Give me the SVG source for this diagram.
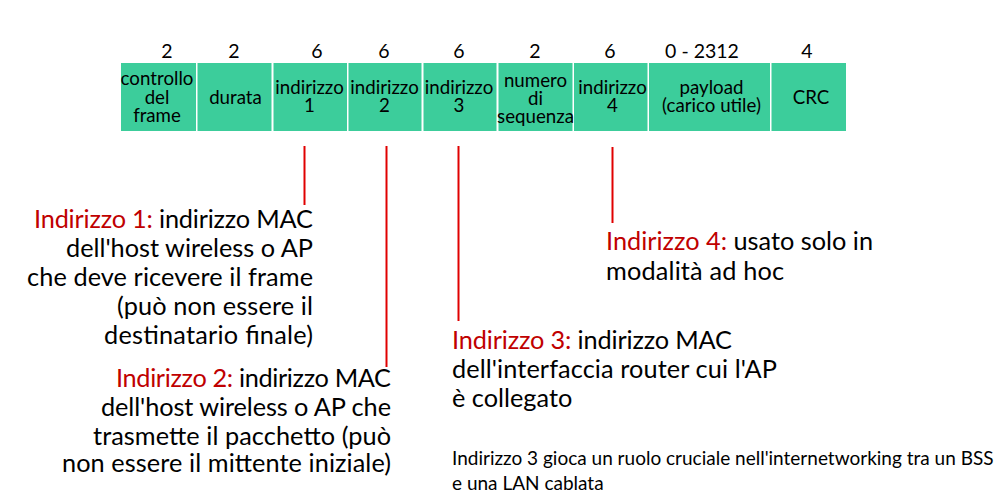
<svg xmlns="http://www.w3.org/2000/svg" width="1002" height="503" viewBox="0 0 1002 503">
<style>
.cell{fill:#3CCD9B}
.ct{font-family:Lato,"Open Sans",sans-serif;font-size:18.7px;fill:#000;text-anchor:middle}
.num{font-family:Lato,"Open Sans",sans-serif;font-size:19.5px;fill:#000;text-anchor:middle}
.body{font-family:Lato,"Open Sans",sans-serif;font-size:25.3px;fill:#000}
.red{fill:#C00000}
.note{font-family:Lato,"Open Sans",sans-serif;font-size:19px;fill:#000}
.ln{stroke:#E00000;stroke-width:2;fill:none}
</style>
<rect width="1002" height="503" fill="#fff"/>
<g id="sizes" class="num">
<text x="167" y="58">2</text>
<text x="234" y="58">2</text>
<text x="317" y="58">6</text>
<text x="384" y="58">6</text>
<text x="459" y="58">6</text>
<text x="535" y="58">2</text>
<text x="610" y="58">6</text>
<text x="702" y="58">0 - 2312</text>
<text x="807" y="58">4</text>
</g>
<g id="cell-controllo"><rect class="cell" x="121" y="63" width="75" height="68"/><text class="ct" x="157" y="85">controllo</text><text class="ct" x="157" y="103.5">del</text><text class="ct" x="157" y="122">frame</text></g>
<g id="cell-durata"><rect class="cell" x="197.5" y="63" width="74" height="68"/><text class="ct" x="235.5" y="103.5">durata</text></g>
<g id="cell-ind1"><rect class="cell" x="273.5" y="63" width="73.5" height="68"/><text class="ct" x="309.5" y="94">indirizzo</text><text class="ct" x="309.5" y="112">1</text></g>
<g id="cell-ind2"><rect class="cell" x="348.5" y="63" width="73" height="68"/><text class="ct" x="384.5" y="94">indirizzo</text><text class="ct" x="384.5" y="112">2</text></g>
<g id="cell-ind3"><rect class="cell" x="423.5" y="63" width="73" height="68"/><text class="ct" x="459" y="94">indirizzo</text><text class="ct" x="459" y="112">3</text></g>
<g id="cell-seq"><rect class="cell" x="498.5" y="63" width="74" height="68"/><text class="ct" x="535.5" y="86.5">numero</text><text class="ct" x="535.5" y="105">di</text><text class="ct" x="535.5" y="123">sequenza</text></g>
<g id="cell-ind4"><rect class="cell" x="574" y="63" width="73.5" height="68"/><text class="ct" x="612.5" y="94">indirizzo</text><text class="ct" x="612.5" y="112">4</text></g>
<g id="cell-payload"><rect class="cell" x="649" y="63" width="121" height="68"/><text class="ct" x="711.5" y="93.5">payload</text><text class="ct" x="711.5" y="112">(carico utile)</text></g>
<g id="cell-crc"><rect class="cell" x="771.5" y="63" width="74.5" height="68"/><text class="ct" x="811" y="103.5">CRC</text></g>
<g id="connectors">
<line class="ln" x1="304.5" y1="146" x2="304.5" y2="205"/>
<line class="ln" x1="386.5" y1="146" x2="386.5" y2="367"/>
<line class="ln" x1="458.5" y1="146" x2="458.5" y2="321"/>
<line class="ln" x1="612.5" y1="147" x2="612.5" y2="223"/>
</g>
<g id="note-ind1" class="body" text-anchor="end">
<text x="313" y="228" textLength="279"><tspan class="red">Indirizzo 1:</tspan> indirizzo MAC</text>
<text x="313" y="257" textLength="247">dell'host wireless o AP</text>
<text x="313" y="286" textLength="286">che deve ricevere il frame</text>
<text x="313" y="315" textLength="196">(può non essere il</text>
<text x="313" y="343.5" textLength="209">destinatario finale)</text>
</g>
<g id="note-ind2" class="body" text-anchor="end">
<text x="391" y="387" textLength="275"><tspan class="red">Indirizzo 2:</tspan> indirizzo MAC</text>
<text x="391" y="416" textLength="290">dell'host wireless o AP che</text>
<text x="391" y="444.5" textLength="298">trasmette il pacchetto (può</text>
<text x="391" y="472" textLength="329">non essere il mittente iniziale)</text>
</g>
<g id="note-ind3" class="body">
<text x="452" y="349" textLength="280"><tspan class="red">Indirizzo 3:</tspan> indirizzo MAC</text>
<text x="452" y="378" textLength="325">dell'interfaccia router cui l'AP</text>
<text x="452" y="407">è collegato</text>
</g>
<g id="note-ind4" class="body">
<text x="606" y="250"><tspan class="red">Indirizzo 4:</tspan> usato solo in</text>
<text x="606" y="280" textLength="178">modalità ad hoc</text>
</g>
<g id="note-bss" class="note">
<text x="452" y="465">Indirizzo 3 gioca un ruolo cruciale nell'internetworking tra un BSS</text>
<text x="452" y="490">e una LAN cablata</text>
</g>
</svg>
